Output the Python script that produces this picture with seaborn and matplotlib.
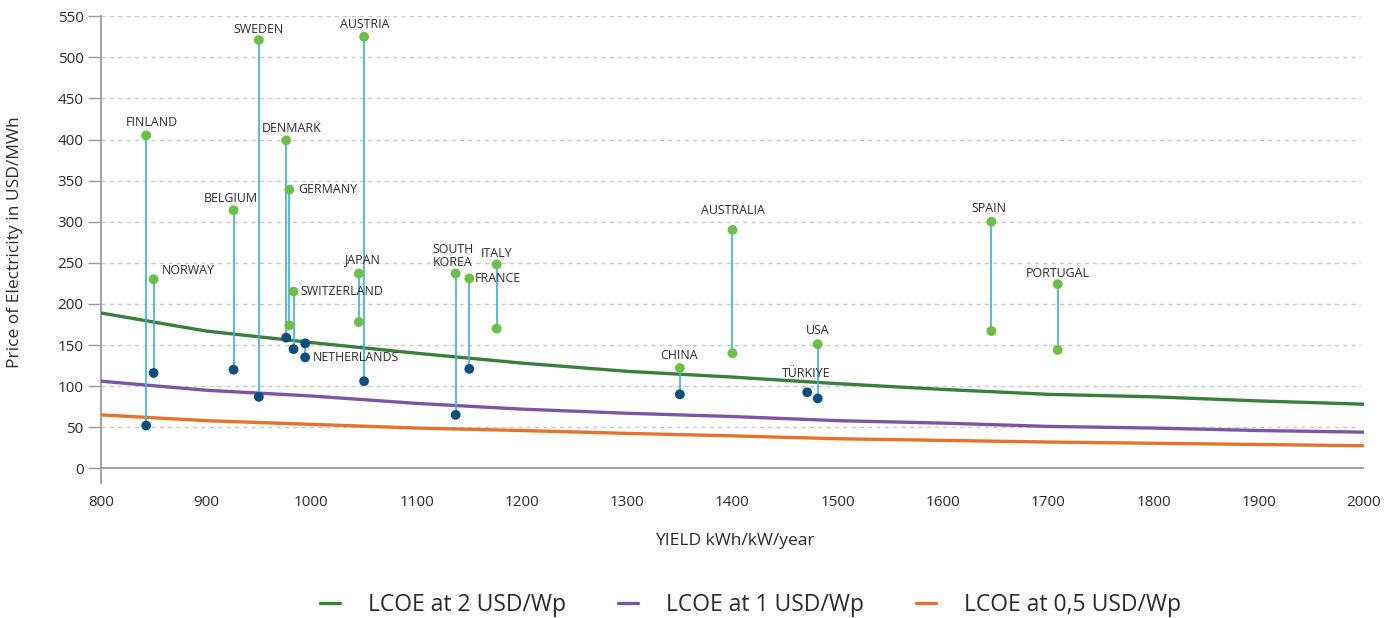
import matplotlib
matplotlib.use("Agg")
import matplotlib.pyplot as plt
from matplotlib.lines import Line2D
import seaborn as sns
import pandas as pd

# LCOE reference curves, read every 100 kWh/kW/year
yield_grid = [800, 900, 1000, 1100, 1200, 1300, 1400, 1500, 1600, 1700, 1800, 1900, 2000]
lcoe_2 = [189, 167, 153, 140, 128, 118, 111, 103, 96, 90, 87, 82, 78]
lcoe_1 = [106, 95, 88, 79, 72, 67, 63, 58, 55, 51, 49, 46, 44]
lcoe_05 = [65, 58, 53.5, 49, 46, 42.5, 39.5, 36, 34, 32, 30.5, 29, 27.5]
curve_names = ["LCOE at 2 USD/Wp", "LCOE at 1 USD/Wp", "LCOE at 0,5 USD/Wp"]

# Country electricity prices (USD/MWh) versus solar yield
countries = ["FINLAND", "NORWAY", "BELGIUM", "SWEDEN", "DENMARK", "GERMANY",
             "SWITZERLAND", "NETHERLANDS", "JAPAN", "AUSTRIA", "SOUTH\nKOREA",
             "FRANCE", "ITALY", "CHINA", "AUSTRALIA", "TÜRKIYE", "USA",
             "SPAIN", "PORTUGAL"]
yields = [843, 850, 926, 950, 976, 979, 983, 994, 1045, 1050, 1137,
          1150, 1176, 1350, 1400, 1471, 1481, 1646, 1709]
price_high = [405, 230, 314, 521, 399, 339, 215, 152, 237, 525, 237,
              231, 248, 122, 290, None, 151, 300, 224]
kind_high = ["g", "g", "g", "g", "g", "g", "g", "b", "g", "g", "g",
             "g", "g", "g", "g", None, "g", "g", "g"]
price_low = [52, 116, 120, 87, 159, 174, 145, 135, 178, 106, 65,
             121, 170, 90, 140, 92.5, 85, 167, 144]
kind_low = ["b", "b", "b", "b", "b", "g", "b", "b", "g", "b", "b",
            "b", "g", "b", "g", "b", "b", "g", "g"]

# label offsets in pixels from the labelled point, and alignment
label_offsets = [(6, 13, "center"), (8, 9, "left"), (-3, 12, "center"),
                 (0, 11, "center"), (5, 12, "center"), (9, 0, "left"),
                 (7, 0, "left"), (8, 0, "left"), (3, 14, "center"),
                 (1, 12, "center"), (-3, 18, "center"), (5, 0, "left"),
                 (0, 11, "center"), (-1, 13, "center"), (0, 19, "center"),
                 (-1, 19, "center"), (0, 14, "center"), (-3, 13, "center"),
                 (0, 11, "center")]

GREEN_LINE = "#3a7f3c"
PURPLE_LINE = "#7e55a3"
ORANGE_LINE = "#e6722b"
DOT_GREEN = "#6cbf47"
DOT_BLUE = "#0c4e7e"
STEM = "#4db4d7"
GRID = "#c9c9c9"
AXIS = "#9a9a9a"
TEXT = "#2b2b2b"

sns.set_theme(style="white")
plt.rcParams["font.family"] = ["Open Sans", "DejaVu Sans"]

fig = plt.figure(figsize=(14, 6.18), dpi=100)
ax = fig.add_axes([0.0721, 0.2189, 0.9022, 0.7549])

# gridlines
for v in range(50, 551, 50):
    ax.axhline(v, xmin=0, xmax=0.997, color=GRID, lw=1.0, ls=(0, (3, 3)), zorder=0)
ax.axhline(0, color=AXIS, lw=1.3, zorder=1)

# LCOE curves
curves = pd.DataFrame({
    "yield": yield_grid * 3,
    "lcoe": lcoe_2 + lcoe_1 + lcoe_05,
    "curve": [curve_names[0]] * 13 + [curve_names[1]] * 13 + [curve_names[2]] * 13,
})
palette = dict(zip(curve_names, [GREEN_LINE, PURPLE_LINE, ORANGE_LINE]))
sns.lineplot(data=curves, x="yield", y="lcoe", hue="curve", palette=palette,
             lw=2.4, legend=False, ax=ax, zorder=3)

# stems between the two prices of each country
for x, hi, lo in zip(yields, price_high, price_low):
    if hi is not None and lo is not None:
        ax.plot([x, x], [lo, hi], color=STEM, lw=1.3, zorder=4)

# dots
rows = []
for c, x, hi, kh, lo, kl in zip(countries, yields, price_high, kind_high, price_low, kind_low):
    if hi is not None:
        rows.append((c, x, hi, kh))
    rows.append((c, x, lo, kl))
dots = pd.DataFrame(rows, columns=["country", "yield", "price", "kind"])
sns.scatterplot(data=dots, x="yield", y="price", hue="kind",
                palette={"g": DOT_GREEN, "b": DOT_BLUE}, s=50, linewidth=0,
                legend=False, ax=ax, zorder=5, clip_on=False)

# country labels
for c, x, hi, lo, (dx, dy, ha) in zip(countries, yields, price_high, price_low, label_offsets):
    if c == "NETHERLANDS":
        y = lo
    else:
        y = hi if hi is not None else lo
    ax.annotate(c, (x, y), xytext=(dx, dy), textcoords="offset pixels",
                ha=ha, va="center", fontsize=8.9, color=TEXT,
                linespacing=1.0, zorder=6)

ax.set_xlim(800, 2000)
ax.set_ylim(-17.5, 550)
ax.set_xticks(range(800, 2001, 100))
ax.set_yticks(range(0, 551, 50))
ax.tick_params(axis="x", length=0, pad=9, labelsize=11, labelcolor=TEXT)
ax.tick_params(axis="y", length=9.5, width=1.0, color=AXIS, pad=3,
               labelsize=11, labelcolor=TEXT, left=True)
for side in ["top", "right", "bottom"]:
    ax.spines[side].set_visible(False)
ax.spines["left"].set_color(AXIS)
ax.spines["left"].set_linewidth(1.3)
ax.set_xlabel("")
ax.set_ylabel("")

fig.text(0.0107, 0.608, "Price of Electricity in USD/MWh", rotation=90,
         ha="center", va="center", fontsize=12.5, color=TEXT)
fig.text(0.525, 0.124, "YIELD kWh/kW/year", ha="center", va="center",
         fontsize=12.5, color=TEXT)

handles = [Line2D([0], [0], color=palette[n], lw=2.4) for n in curve_names]
fig.legend(handles, curve_names, loc="center", bbox_to_anchor=(0.536, 0.021),
           ncol=3, frameon=False, fontsize=16.5, handlelength=0.87,
           handletextpad=1.2, columnspacing=2.3, labelcolor=TEXT)

fig.savefig("out.png", dpi=100)
